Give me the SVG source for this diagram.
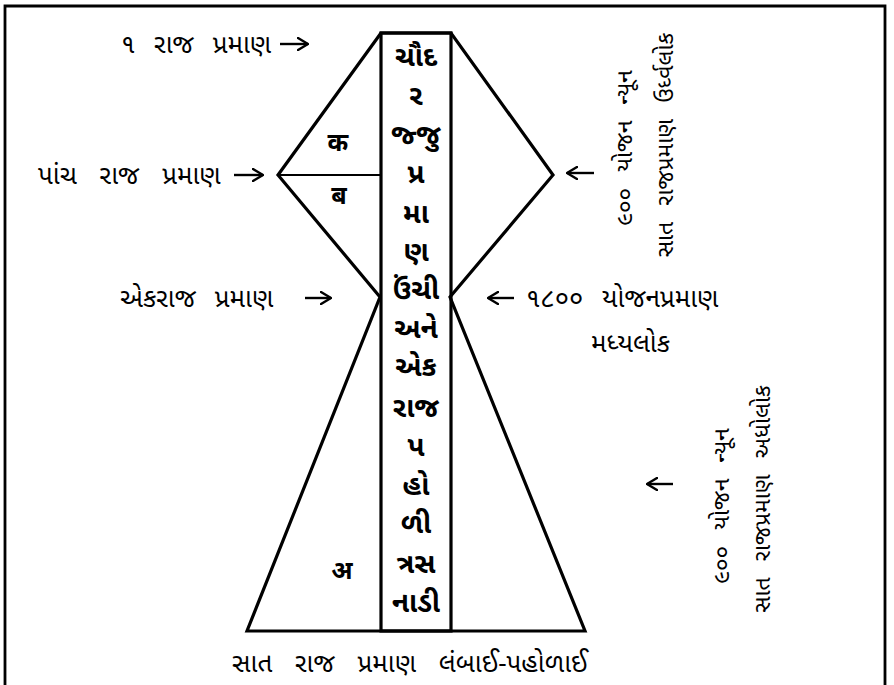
<svg xmlns="http://www.w3.org/2000/svg" width="894" height="685" viewBox="0 0 894 685">
<defs>
<marker id="ah" viewBox="0 0 12 14" refX="11" refY="7" markerWidth="12" markerHeight="14" markerUnits="userSpaceOnUse" orient="auto">
<path d="M1,1 L11,7 L1,13" fill="none" stroke="#000" stroke-width="2.4" stroke-linecap="round" stroke-linejoin="round"/>
</marker>
<style>
.t{font-family:"Noto Sans Gujarati","Lohit Gujarati","Noto Sans",sans-serif;font-size:26px;fill:#000;word-spacing:12px}
.w{word-spacing:16px}
.c{font-family:"Noto Sans Gujarati","Lohit Gujarati","Noto Sans",sans-serif;font-size:28px;font-weight:bold;fill:#000;text-anchor:middle}
.d{font-family:"Noto Sans Devanagari","Lohit Devanagari","Noto Sans",sans-serif;font-size:25px;font-weight:bold;fill:#000;text-anchor:middle}
.r{font-family:"Noto Sans Gujarati","Lohit Gujarati","Noto Sans",sans-serif;font-size:23px;fill:#000;text-anchor:middle;word-spacing:10px}
.s{fill:none;stroke:#000;stroke-width:3.2;stroke-linejoin:miter}
.a{fill:none;stroke:#000;stroke-width:2.4;marker-end:url(#ah)}
</style>
</defs>
<rect width="894" height="685" fill="#fff"/>
<path d="M5,685 L5,6 L885,6 L885,685" fill="none" stroke="#000" stroke-width="2.8"/>

<g id="shape">
<path class="s" d="M381,33 L278,175 L380,297 L247,631 L585,631 L450,297 L553,175 L451,33 Z"/>
<line x1="278" y1="175" x2="381" y2="175" stroke="#000" stroke-width="2.2"/>
</g>

<g id="column">
<rect x="381" y="33" width="70" height="598" fill="none" stroke="#000" stroke-width="3.2"/>
<text class="c" x="416" y="66">ચૌદ</text>
<text class="c" x="416" y="105">ર</text>
<text class="c" x="416" y="144">જ્જુ</text>
<text class="c" x="416" y="183">પ્ર</text>
<text class="c" x="416" y="223">મા</text>
<text class="c" x="416" y="261">ણ</text>
<text class="c" x="416" y="299">ઉંચી</text>
<text class="c" x="416" y="338">અને</text>
<text class="c" x="416" y="376">એક</text>
<text class="c" x="416" y="417">રાજ</text>
<text class="c" x="416" y="456">પ</text>
<text class="c" x="416" y="495">હો</text>
<text class="c" x="416" y="533">ળી</text>
<text class="c" x="416" y="573">ત્રસ</text>
<text class="c" x="416" y="612">નાડી</text>
</g>

<g id="region-labels">
<text class="d" x="338" y="151">क</text>
<text class="d" x="339" y="204">ब</text>
<text class="d" x="342" y="579">अ</text>
</g>

<g id="label-top">
<text class="t" x="121" y="53">૧ રાજ પ્રમાણ</text>
</g>
<g id="label-five">
<text class="t w" x="38" y="184">પાંચ રાજ પ્રમાણ</text>
</g>
<g id="label-one">
<text class="t" x="120" y="307">એકરાજ પ્રમાણ</text>
</g>
<g id="label-middle">
<text class="t" x="526" y="307">૧૮૦૦ યોજનપ્રમાણ</text>
<text class="t" x="591" y="352">મધ્યલોક</text>
</g>
<g id="label-upper">
<text class="r" transform="translate(632,148) rotate(-90)">૯૦૦ યોજન ન્યૂન</text>
<text class="r" transform="translate(673,145) rotate(-90)">સાત રાજપ્રમાણ ઉર્ધ્વલોક</text>
</g>
<g id="label-lower">
<text class="r" transform="translate(729,506) rotate(-90)">૯૦૦ યોજન ન્યૂન</text>
<text class="r" transform="translate(770,499) rotate(-90)">સાત રાજપ્રમાણ અધોલોક</text>
</g>
<g id="label-bottom">
<text class="t w" x="232" y="672">સાત રાજ પ્રમાણ લંબાઈ-પહોળાઈ</text>
</g>

<g id="connectors">
<line class="a" x1="280" y1="44" x2="308" y2="44"/>
<line class="a" x1="234" y1="175" x2="263" y2="175"/>
<line class="a" x1="305" y1="298" x2="331" y2="298"/>
<line class="a" x1="514" y1="298" x2="488" y2="298"/>
<line class="a" x1="594" y1="173" x2="567" y2="173"/>
<line class="a" x1="673" y1="484" x2="647" y2="484"/>
</g>
</svg>
